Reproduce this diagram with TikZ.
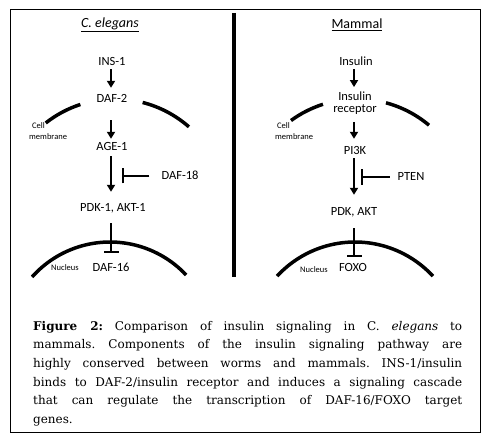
\documentclass[tikz,border=0pt]{standalone}
\usepackage{fontspec}
\setmainfont{DejaVu Serif}
\newfontfamily\carl{Carlito}
\usetikzlibrary{arrows.meta}
\begin{document}
\begin{tikzpicture}[x=1pt,y=-1pt,
  lbl/.style={font=\carl\fontsize{12.5}{12}\selectfont, inner sep=0pt, text height=9pt, text depth=3pt},
  twoline/.style={font=\carl\fontsize{12.5}{12}\selectfont, inner sep=0pt, align=center},
  ttl/.style={font=\carl\fontsize{14}{14}\selectfont, inner sep=0pt},
  small/.style={font=\carl\fontsize{8.5}{11}\selectfont, inner sep=0pt, align=left, anchor=north west},
  act/.style={line width=1.8pt, -{Triangle[width=8pt,length=7pt]}},
  inh/.style={line width=1.8pt, -{Bar[width=15pt]}},
  mem/.style={line width=3.5pt},
]
\useasboundingbox (0,0) rectangle (486,438);
\fill[white] (0,0) rectangle (486,438);
\draw[line width=1pt] (10.5,9.5) rectangle (480,432);
\draw[line width=4pt] (234,13) -- (234,277);

% ---------- left panel ----------
\node[ttl] (tL) at (110,25) {\underline{\textit{C. elegans}}};
\node[lbl] (ins1) at (112,63) {INS-1};
\node[lbl] (daf2) at (112,100) {DAF-2};
\node[lbl] (age1) at (112,148) {AGE-1};
\node[lbl] (pdk1) at (113,208) {PDK-1, AKT-1};
\node[lbl] (daf16) at (111,268) {DAF-16};
\node[lbl] (daf18) at (180,176) {DAF-18};
\node[small] (cmL) at (29,122) {\hspace*{3pt}Cell\\membrane};
\node[font=\carl\fontsize{8.5}{11}\selectfont, inner sep=0pt] (nucL) at (65,268) {Nucleus};
\coordinate (hitL) at (122,176);

\draw[act, shorten >=6pt] (ins1.south -| 111,0) -- (daf2.north -| 111,0);
\draw[act, shorten <=14pt, shorten >=3pt] (daf2.south -| 111,0) -- (age1.north -| 111,0);
\draw[act, shorten <=2pt, shorten >=10pt] (age1.south -| 111,0) -- (pdk1.north -| 111,0);
\draw[inh, shorten <=9pt, shorten >=9pt] (pdk1.south -| 111,0) -- (daf16.north -| 111,0);
\draw[inh, shorten <=12pt] (daf18.west) -- (hitL);

\draw[mem] ([shift={(-128.2:112)}]115,211) arc[start angle=-128.2, end angle=-108, radius=112];
\draw[mem] ([shift={(-75.7:112)}]115,211) arc[start angle=-75.7, end angle=-48.7, radius=112];
\draw[mem] ([shift={(-138.3:104.4)}]110,346.4) arc[start angle=-138.3, end angle=-43.2, radius=104.4];

% ---------- right panel ----------
\node[ttl] (tR) at (357,25) {\underline{Mammal}};
\node[lbl] (ins) at (356,63) {Insulin};
\node[twoline] (rec) at (355,103) {Insulin\\receptor};
\node[lbl] (pi3k) at (355,152) {PI3K};
\node[lbl] (pdk) at (354,212) {PDK, AKT};
\node[lbl] (foxo) at (353,268) {FOXO};
\node[lbl] (pten) at (411,177) {PTEN};
\node[small] (cmR) at (275,122) {\hspace*{2pt}Cell\\membrane};
\node[font=\carl\fontsize{8.5}{11}\selectfont, inner sep=0pt] (nucR) at (314,270) {Nucleus};
\coordinate (hitR) at (361,177);

\draw[act, shorten >=4.4pt] (ins.south -| 354,0) -- (rec.north -| 354,0);
\draw[act, shorten <=7.4pt, shorten >=7pt] (rec.south -| 354,0) -- (pi3k.north -| 354,0);
\draw[act, shorten >=11pt] (pi3k.south -| 354,0) -- (pdk.north -| 354,0);
\draw[inh, shorten <=10pt, shorten >=5pt] (pdk.south -| 354,0) -- (foxo.north -| 354,0);
\draw[inh, shorten <=7.5pt] (pten.west) -- (hitR);

\draw[mem] ([shift={(-126.1:112)}]357,211) arc[start angle=-126.1, end angle=-107.7, radius=112];
\draw[mem] ([shift={(-75:112)}]357,211) arc[start angle=-75, end angle=-50, radius=112];
\draw[mem] ([shift={(-137.3:106)}]355,348) arc[start angle=-137.3, end angle=-42.7, radius=106];

% ---------- caption ----------
\node[anchor=north west, inner sep=0pt, text width=429pt,
      font=\fontsize{12}{18.6}\selectfont, align=justify] (cap) at (33,321)
{\frenchspacing\hbadness=10000
\textbf{Figure 2:} Comparison of insulin signaling in C. \textit{elegans} to\linebreak
mammals. Components of the insulin signaling pathway are\linebreak
highly conserved between worms and mammals. INS-1/insulin\linebreak
binds to DAF-2/insulin receptor and induces a signaling cascade\linebreak
that can regulate the transcription of DAF-16/FOXO target\linebreak
genes.};
\end{tikzpicture}
\end{document}
